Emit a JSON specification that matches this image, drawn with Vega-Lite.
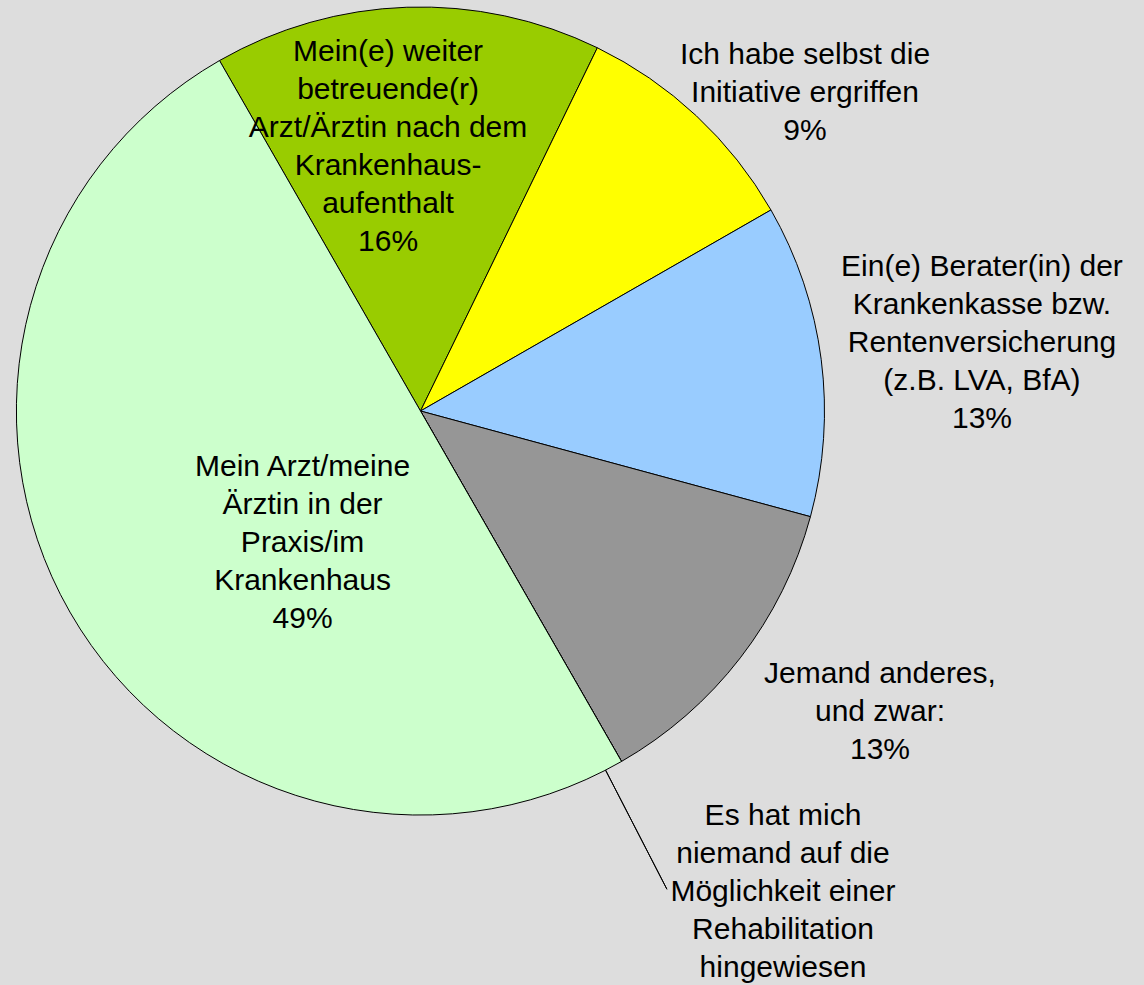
{
  "$schema": "https://vega.github.io/schema/vega-lite/v6.json",
  "autosize": {"type": "none"},
  "width": 841,
  "height": 822,
  "padding": {"left": 0, "top": 0, "right": 303, "bottom": 163},
  "background": "#DDDDDD",
  "config": {"view": {"stroke": null}},
  "data": {"values": [
    {"rank": 1, "cat": "betreuend", "value": 15.5, "label": "Mein(e) weiter\nbetreuende(r)\nArzt/Ärztin nach dem\nKrankenhaus-\naufenthalt\n16%"},
    {"rank": 2, "cat": "selbst", "value": 9.5, "label": "Ich habe selbst die\nInitiative ergriffen\n9%"},
    {"rank": 3, "cat": "berater", "value": 12.5, "label": "Ein(e) Berater(in) der\nKrankenkasse bzw.\nRentenversicherung\n(z.B. LVA, BfA)\n13%"},
    {"rank": 4, "cat": "anderes", "value": 12.5, "label": "Jemand anderes,\nund zwar:\n13%"},
    {"rank": 5, "cat": "niemand", "value": 0, "label": "Es hat mich\nniemand auf die\nMöglichkeit einer\nRehabilitation\nhingewiesen"},
    {"rank": 6, "cat": "praxis", "value": 50, "label": "Mein Arzt/meine\nÄrztin in der\nPraxis/im\nKrankenhaus\n49%"}
  ]},
  "encoding": {
    "theta": {"field": "value", "type": "quantitative", "stack": true, "scale": {"range": [-0.5208, 5.7624]}},
    "order": {"field": "rank", "type": "quantitative"},
    "detail": {"field": "cat", "type": "nominal"}
  },
  "layer": [
    {
      "mark": {"type": "arc", "outerRadius": 404, "stroke": "black", "strokeWidth": 1},
      "encoding": {
        "color": {"field": "cat", "type": "nominal", "legend": null,
          "scale": {"domain": ["betreuend", "selbst", "berater", "anderes", "niemand", "praxis"],
                    "range": ["#99CC00", "#FFFF00", "#99CCFF", "#969696", "#FFFFFF", "#CCFFCC"]}}
      }
    },
    {
      "mark": {"type": "arc", "innerRadius": 404, "outerRadius": 538, "thetaOffset": 0.045, "theta2Offset": 0.045, "fillOpacity": 0, "stroke": "black", "strokeWidth": 1},
      "encoding": {
        "strokeOpacity": {"condition": {"test": "datum.cat === 'niemand'", "value": 1}, "value": 0}
      }
    },
    {
      "mark": {"type": "text", "radius": 267.7, "dx": -23.4, "dy": -91.5, "font": "Liberation Sans", "fontSize": 30, "lineHeight": 38, "lineBreak": "\n", "align": "center", "baseline": "middle", "color": "black"},
      "encoding": {"text": {"condition": {"test": "datum.cat === 'betreuend'", "field": "label", "type": "nominal"}, "value": ""}}
    },
    {
      "mark": {"type": "text", "radius": 499.6, "dx": 43.4, "dy": 9.5, "font": "Liberation Sans", "fontSize": 30, "lineHeight": 38, "lineBreak": "\n", "align": "center", "baseline": "middle", "color": "black"},
      "encoding": {"text": {"condition": {"test": "datum.cat === 'selbst'", "field": "label", "type": "nominal"}, "value": ""}}
    },
    {
      "mark": {"type": "text", "radius": 565.7, "dx": 0.4, "dy": -72, "font": "Liberation Sans", "fontSize": 30, "lineHeight": 38, "lineBreak": "\n", "align": "center", "baseline": "middle", "color": "black"},
      "encoding": {"text": {"condition": {"test": "datum.cat === 'berater'", "field": "label", "type": "nominal"}, "value": ""}}
    },
    {
      "mark": {"type": "text", "radius": 549.6, "dx": 24.4, "dy": -72.5, "font": "Liberation Sans", "fontSize": 30, "lineHeight": 38, "lineBreak": "\n", "align": "center", "baseline": "middle", "color": "black"},
      "encoding": {"text": {"condition": {"test": "datum.cat === 'anderes'", "field": "label", "type": "nominal"}, "value": ""}}
    },
    {
      "mark": {"type": "text", "radius": 602.9, "dx": 62.5, "dy": -117.5, "font": "Liberation Sans", "fontSize": 30, "lineHeight": 38, "lineBreak": "\n", "align": "center", "baseline": "middle", "color": "black"},
      "encoding": {"text": {"condition": {"test": "datum.cat === 'niemand'", "field": "label", "type": "nominal"}, "value": ""}}
    },
    {
      "mark": {"type": "text", "radius": 176.1, "dx": 34.8, "dy": -32, "font": "Liberation Sans", "fontSize": 30, "lineHeight": 38, "lineBreak": "\n", "align": "center", "baseline": "middle", "color": "black"},
      "encoding": {"text": {"condition": {"test": "datum.cat === 'praxis'", "field": "label", "type": "nominal"}, "value": ""}}
    }
  ]
}
